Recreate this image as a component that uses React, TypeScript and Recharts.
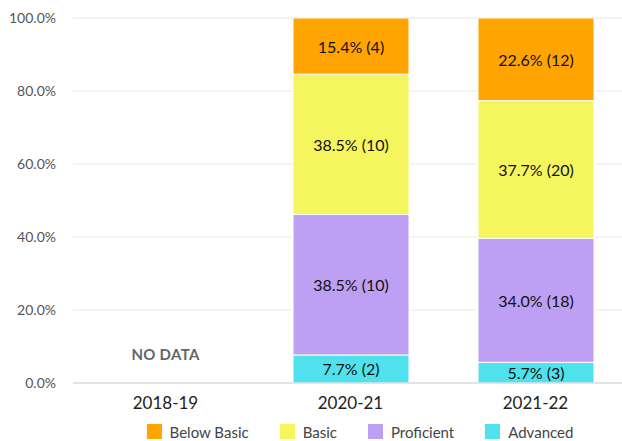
import { BarChart, Bar, XAxis, YAxis, CartesianGrid, Legend, LabelList, ReferenceDot } from "recharts";

const years = ["2018-19", "2020-21", "2021-22"];

// student counts per level, null = no data
const advanced = [null, 2, 3];
const proficient = [null, 10, 18];
const basic = [null, 10, 20];
const belowBasic = [null, 4, 12];

const series = [
  { key: "advanced", name: "Advanced", counts: advanced, color: "#50e2ec" },
  { key: "proficient", name: "Proficient", counts: proficient, color: "#bda0f4" },
  { key: "basic", name: "Basic", counts: basic, color: "#f5f65d" },
  { key: "belowBasic", name: "Below Basic", counts: belowBasic, color: "#ffa400" },
];

const yTicks = [0, 20, 40, 60, 80, 100];

const totals = years.map((_, i) =>
  series.reduce((s, ser) => s + (ser.counts[i] ?? 0), 0)
);

const data = years.map((year, i) => {
  const row: Record<string, any> = { year };
  series.forEach((ser) => {
    const c = ser.counts[i];
    const pct = c == null ? null : (c / totals[i]) * 100;
    row[ser.key] = pct;
    row[ser.key + "Label"] = pct == null ? "" : `${pct.toFixed(1)}% (${c})`;
  });
  return row;
});

const font = "Lato, 'Open Sans', sans-serif";

const renderLabel = (props: any) => {
  const { x, y, width, height, value } = props;
  if (!value || !height) return null;
  return (
    <text
      x={x + width / 2}
      y={y + height / 2}
      textAnchor="middle"
      dominantBaseline="central"
      fontSize={16}
      fontFamily={font}
      fill="#111"
    >
      {value}
    </text>
  );
};

function LegendBox() {
  const items = [...series].reverse();
  return (
    <div
      style={{
        display: "flex",
        justifyContent: "center",
        alignItems: "center",
        gap: 31,
        height: 22,
        paddingTop: 3,
        boxSizing: "border-box",
        fontFamily: font,
        fontSize: 15,
        color: "#444",
        marginLeft: 92,
      }}
    >
      {items.map((s) => (
        <div key={s.key} style={{ display: "flex", alignItems: "center" }}>
          <span style={{ width: 15, height: 15, background: s.color, display: "inline-block", marginRight: 8 }} />
          {s.name}
        </div>
      ))}
    </div>
  );
}

export default function App() {
  return (
    <div style={{ position: "absolute", left: 0, top: 0, width: 622, height: 441, overflow: "hidden", background: "#fff" }}>
      <BarChart
        width={630}
        height={441}
        data={data}
        margin={{ top: 18, right: 2, bottom: 0, left: 0 }}
        barSize={116}
      >
        <CartesianGrid vertical={false} stroke="#e8e8e8" />
        <XAxis
          dataKey="year"
          tickLine={false}
          tickSize={0}
          tickMargin={14}
          height={36}
          axisLine={{ stroke: "#ccd4e2" }}
          tick={{ fontSize: 17, fontFamily: font, fill: "#222" }}
        />
        <YAxis
          domain={[0, 100]}
          ticks={yTicks}
          allowDataOverflow
          width={73}
          axisLine={false}
          tickLine={false}
          tickSize={0}
          tickMargin={17}
          tickFormatter={(v: number) => `${v.toFixed(1)}%`}
          tick={{ fontSize: 14, fontFamily: font, fill: "#555" }}
        />
        <Legend verticalAlign="bottom" content={() => <LegendBox />} />
        {series.map((s) => (
          <Bar
            key={s.key}
            dataKey={s.key}
            name={s.name}
            stackId="a"
            fill={s.color}
            stroke="#fff"
            strokeWidth={1}
            isAnimationActive={false}
          >
            <LabelList dataKey={s.key + "Label"} content={renderLabel} />
          </Bar>
        ))}
        <ReferenceDot
          x="2018-19"
          y={7.7}
          r={0}
          fill="none"
          stroke="none"
          label={{ value: "NO DATA", position: "center", fontSize: 15, fontWeight: 700, fontFamily: font, fill: "#666", letterSpacing: 0.3 }}
        />
      </BarChart>
    </div>
  );
}
